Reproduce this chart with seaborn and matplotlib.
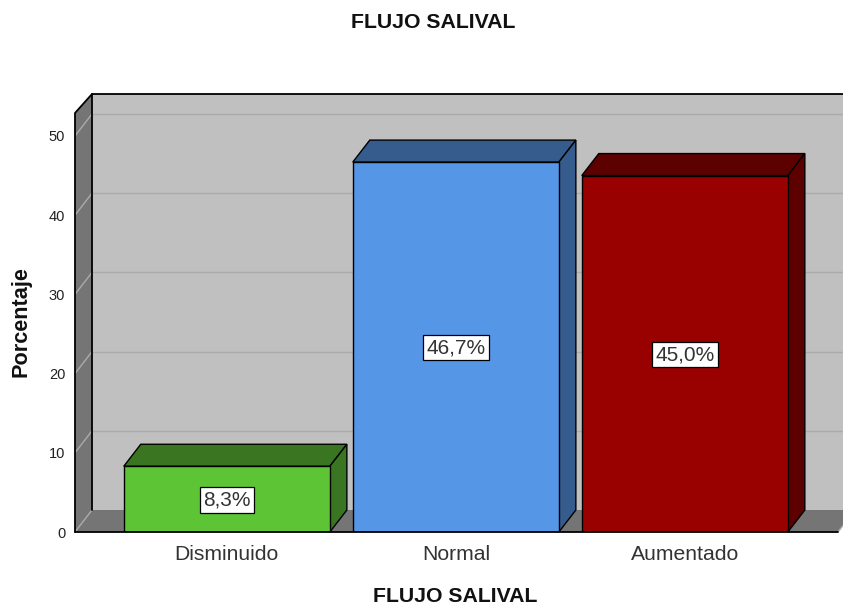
import pandas as pd
import seaborn as sns
import matplotlib.pyplot as plt

# datos del grafico
categorias = ['Disminuido', 'Normal', 'Aumentado']
porcentajes = [8.3, 46.7, 45.0]
etiquetas = ['8,3%', '46,7%', '45,0%']
marcas_y = [0, 10, 20, 30, 40, 50]
colores = ['#5DC436', '#5596E6', '#990000']
colores_oscuros = ['#3A7522', '#365C8E', '#5C0000']

df = pd.DataFrame({'flujo': categorias, 'pct': porcentajes})

sns.set_theme(style='white')
plt.rcParams['font.family'] = ['Liberation Sans', 'DejaVu Sans']

W, H = 843, 607
fig = plt.figure(figsize=(W / 100, H / 100), dpi=100)
ax = fig.add_axes([75 / W, (H - 532) / H, 763 / W, 419 / H])

sns.barplot(data=df, x='flujo', y='pct', hue='flujo', palette=colores, saturation=1,
            width=0.9, edgecolor='black', linewidth=1, legend=False, ax=ax, zorder=5)

x0, x1 = -0.663, 2.669
y0, y1 = 0, 52.9
ax.set_xlim(x0, x1)
ax.set_ylim(y0, y1)

# profundidad del efecto 3D en unidades de datos
dx = 17 / 229
dy = 22 / 7.92
techo = y1 + dy - 0.38  # el fondo llega un poco menos arriba

# paredes
ax.fill([x0 + dx, x1 + dx, x1 + dx, x0 + dx], [y0 + dy, y0 + dy, techo, techo],
        color='#C0C0C0', lw=0, clip_on=False, zorder=1)
ax.fill([x0, x1, x1 + dx, x0 + dx], [y0, y0, y0 + dy, y0 + dy],
        color='#757575', lw=0, clip_on=False, zorder=1)
ax.fill([x0, x0 + dx, x0 + dx, x0], [y0, y0 + dy, techo, y1],
        color='#757575', lw=0, clip_on=False, zorder=1)

# rejilla sobre el fondo y la pared izquierda
for m in marcas_y:
    if m > 0:
        ax.plot([x0 + dx, x1 + dx], [m + dy, m + dy], color='#ABABAB', lw=1, clip_on=False, zorder=2)
    ax.plot([x0, x0 + dx], [m, m + dy], color='#ABABAB', lw=1, clip_on=False, zorder=2)
ax.plot([x1, x1 + dx], [y0, y0 + dy], color='#ABABAB', lw=1, clip_on=False, zorder=2)

# bordes negros
borde = dict(color='black', lw=1.3, clip_on=False, zorder=3)
ax.plot([x0, x0, x0 + dx, x1 + dx], [y0, y1, techo, techo], **borde)
ax.plot([x0 + dx, x0 + dx], [y0 + dy, techo], **borde)
ax.plot([x0, x1], [y0, y0], color='black', lw=1.3, clip_on=False, zorder=6)

# caras superior y lateral de cada barra
for i, barra in enumerate(ax.patches[:len(categorias)]):
    a = barra.get_x()
    b = a + barra.get_width()
    h = barra.get_height()
    ax.fill([a, b, b + dx, a + dx], [h, h, h + dy, h + dy], facecolor=colores_oscuros[i],
            edgecolor='black', lw=1, clip_on=False, zorder=4)
    ax.fill([b, b + dx, b + dx, b], [0, dy, h + dy, h], facecolor=colores_oscuros[i],
            edgecolor='black', lw=1, clip_on=False, zorder=4)
    ax.text((a + b) / 2, h / 2 - 0.1, etiquetas[i], ha='center', va='center', fontsize=15,
            color='#333333', zorder=7,
            bbox=dict(facecolor='white', edgecolor='black', lw=0.9, pad=2.2))

for s in ax.spines.values():
    s.set_visible(False)

ax.set_yticks(marcas_y)
ax.tick_params(axis='y', length=0, pad=7, labelsize=10.5, labelcolor='#222222')
ax.tick_params(axis='x', length=0, pad=9.5, labelsize=15.2, labelcolor='#333333')
ax.set_xlabel('')
ax.set_ylabel('')

fig.text(433 / W, 1 - 22 / H, 'FLUJO SALIVAL', ha='center', va='center', fontsize=15.3, fontweight='bold', color='#111111')
fig.text(455 / W, 1 - 596 / H, 'FLUJO SALIVAL', ha='center', va='center', fontsize=15.3, fontweight='bold', color='#111111')
fig.text(21 / W, 1 - 322 / H, 'Porcentaje', ha='center', va='center', rotation=90, fontsize=15.6, fontweight='bold', color='#111111')

fig.savefig('out.png', dpi=100)
